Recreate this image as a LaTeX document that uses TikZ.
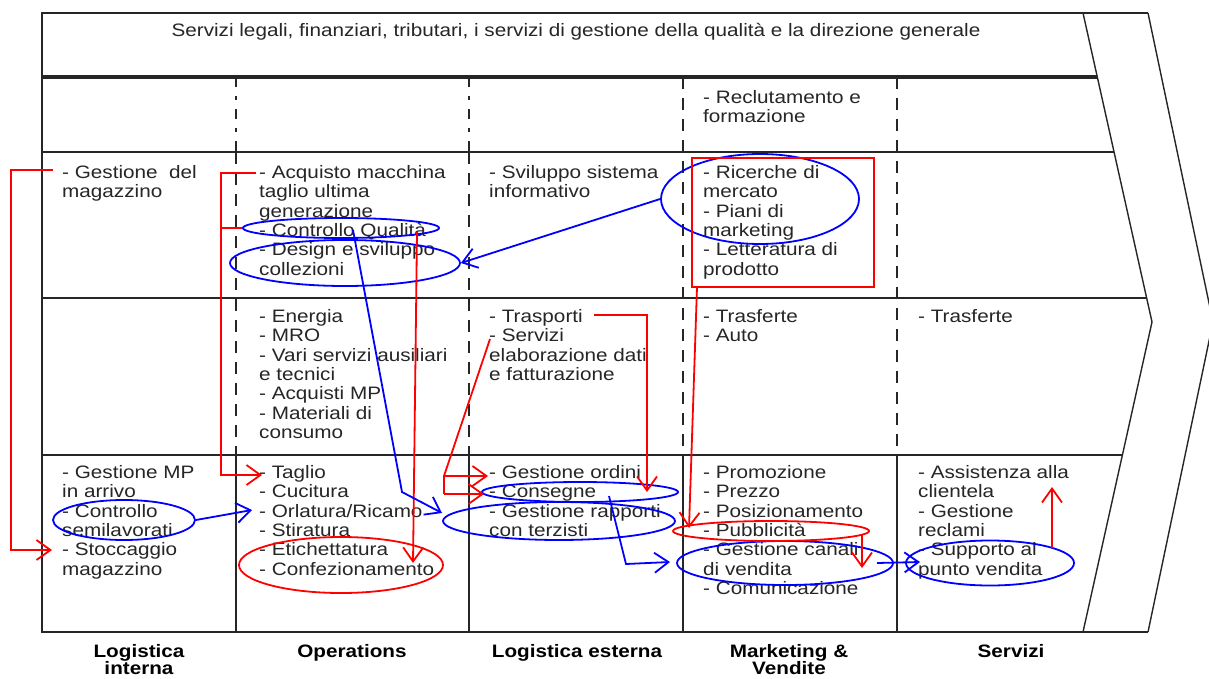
\documentclass[tikz,border=0pt]{standalone}
\usepackage{fontspec}
\setmainfont{Liberation Sans}[FakeStretch=1.15]
\usetikzlibrary{arrows.meta,shapes.geometric}
\tikzset{
 frame/.style={line width=2.2pt, black!85},
 thickframe/.style={line width=3.2pt, black!85},
 chev/.style={line width=1.4pt, black!85},
 dashcol/.style={line width=2.8pt, black!85, dash pattern=on 12pt off 9pt},
 dotcol/.style={line width=2.8pt, black!85, dash pattern=on 10pt off 9pt on 4pt off 9pt},
 cell/.style={anchor=north west, inner sep=0pt, align=left, font=\fontsize{18}{19.4}\selectfont, text=black!85},
 foot/.style={anchor=north, inner sep=0pt, align=center, font=\fontsize{18}{17.5}\selectfont\bfseries, text=black},
 ann/.style={line width=1.8pt},
 bell/.style={draw=blue, ann, ellipse, inner sep=0pt},
 rell/.style={draw=red, ann, ellipse, inner sep=0pt},
 barb/.style={-{Straight Barb[length=14pt,width=20pt]}},
 bline/.style={draw=blue, ann},
 rline/.style={draw=red, ann},
}
\begin{document}
\begin{tikzpicture}[x=1pt,y=-1pt]
\useasboundingbox (0,0) rectangle (1209,679);
\fill[white] (0,0) rectangle (1209,679);
\clip (0,0) rectangle (1209,679);

% ---- frame ----
\draw[frame] (1148,13) -- (42,13) -- (42,632) -- (1148,632);
\draw[chev] (1083,13) -- (1152,322) -- (1083,632);
\draw[chev] (1148,13) -- (1213,322) -- (1148,632);
\draw[thickframe] (42,77) -- (1097,77);
\draw[frame] (42,152) -- (1114,152);
\draw[frame] (42,298) -- (1147,298);
\draw[frame] (42,455) -- (1122,455);
% columns
\foreach \cx in {236,469}{
  \draw[dotcol] (\cx,77) -- (\cx,152);
  \draw[dashcol] (\cx,152) -- (\cx,455);
  \draw[frame] (\cx,455) -- (\cx,632);
}
\foreach \cx in {683,897}{
  \draw[dashcol] (\cx,77) -- (\cx,455);
  \draw[frame] (\cx,455) -- (\cx,632);
}

% ---- texts ----
\node[cell, anchor=center] (top) at (576,32) {Servizi legali, finanziari, tributari, i servizi di gestione della qualità e la direzione generale};

\node[cell] (rec) at (703,90) {- Reclutamento e\\formazione};

\node[cell] (mag) at (62,165) {- Gestione\ \ del\\magazzino};
\node[cell] (acq) at (259,165) {- Acquisto macchina\\taglio ultima\\generazione\\- Controllo Qualità\\- Design e sviluppo\\collezioni};
\node[cell] (svi) at (489,165) {- Sviluppo sistema\\informativo};
\node[cell] (ric) at (703,165) {- Ricerche di\\mercato\\- Piani di\\marketing\\- Letteratura di\\prodotto};

\node[cell] (ene) at (259,309) {- Energia\\- MRO\\- Vari servizi ausiliari\\e tecnici\\- Acquisti MP\\- Materiali di\\consumo};
\node[cell] (tra) at (489,309) {- Trasporti\\- Servizi\\elaborazione dati\\e fatturazione};
\node[cell] (trf) at (703,309) {- Trasferte\\- Auto};
\node[cell] (trs) at (918,309) {- Trasferte};

\node[cell] (lin) at (62,465) {- Gestione MP\\in arrivo\\- Controllo\\semilavorati\\- Stoccaggio\\magazzino};
\node[cell] (ope) at (259,465) {- Taglio\\- Cucitura\\- Orlatura/Ricamo\\- Stiratura\\- Etichettatura\\- Confezionamento};
\node[cell] (les) at (489,465) {- Gestione ordini\\- Consegne\\- Gestione rapporti\\con terzisti};
\node[cell] (mkt) at (703,465) {- Promozione\\- Prezzo\\- Posizionamento\\- Pubblicità\\- Gestione canali\\di vendita\\- Comunicazione};
\node[cell] (ser) at (918,465) {- Assistenza alla\\clientela\\- Gestione\\reclami\\- Supporto al\\punto vendita};

\node[foot] (f1) at (139,644) {Logistica\\interna};
\node[foot] (f2) at (352,644) {Operations};
\node[foot] (f3) at (577,644) {Logistica esterna};
\node[foot] (f4) at (789,644) {Marketing \&\\Vendite};
\node[foot] (f5) at (1011,644) {Servizi};

% ---- annotation shapes ----
\node[bell, minimum width=196pt, minimum height=20pt] (cqE) at (341,228) {};
\node[bell, minimum width=230pt, minimum height=46pt] (desE) at (345,263) {};
\node[bell, minimum width=198pt, minimum height=90pt] (ricE) at (760,199) {};
\node[bell, minimum width=142pt, minimum height=40pt] (semiE) at (124,520) {};
\node[bell, minimum width=196pt, minimum height=20pt] (conE) at (580,492) {};
\node[bell, minimum width=232pt, minimum height=38pt] (terE) at (559,521) {};
\node[bell, minimum width=216pt, minimum height=44pt] (canE) at (785,563) {};
\node[bell, minimum width=168pt, minimum height=45pt] (supE) at (990,563) {};
\node[rell, minimum width=204pt, minimum height=56pt] (confE) at (341,565) {};
\node[rell, minimum width=196pt, minimum height=20pt] (pubE) at (771,531) {};
\node[draw=red, ann, rectangle, inner sep=0pt, minimum width=182pt, minimum height=129pt] (ricR) at (783,222.5) {};

% ---- red connectors ----
\coordinate (r1s) at (53,170);
\coordinate (r1e) at (52,550);
\draw[rline, barb] (r1s) -- ++(-42,0) |- (r1e);

\coordinate (r2s) at (256,173);
\coordinate (r2e) at (262,475);
\draw[rline, barb] (r2s) -- ++(-35,0) |- (r2e);
\draw[rline] (cqE.west) -- ++(-22,0);

\coordinate (r3s) at (417,232);
\coordinate (r3e) at (413,563);
\draw[rline, barb] (r3s) -- (r3e);

\coordinate (r4s) at (697,287);
\coordinate (r4e) at (689,528);
\draw[rline, barb] (r4s) -- (r4e);

\coordinate (r5s) at (862,534);
\coordinate (r5e) at (862,568);
\draw[rline, barb] (r5s) -- (r5e);

\coordinate (r6s) at (490,339);
\coordinate (r6m) at (444,476);
\coordinate (r6b) at (444,494);
\coordinate (r6t1) at (488,476);
\coordinate (r6t2) at (484,494);
\draw[rline] (r6s) -- (r6m) -- (r6b);
\draw[rline, barb] (r6m) -- (r6t1);
\draw[rline, barb] (r6b) -- (r6t2);

\coordinate (r7s) at (594,315);
\coordinate (r7e) at (647,492);
\draw[rline, barb] (r7s) -| (r7e);

\coordinate (r8s) at (1052,548);
\coordinate (r8e) at (1052,487);
\draw[rline, barb] (r8s) -- (r8e);

% ---- blue connectors ----
\draw[bline, barb] (ricE.west) -- (desE.east);

\coordinate (b2s) at (353,230);
\coordinate (b2m) at (402,492);
\coordinate (b2e) at (442,513);
\draw[bline, barb] (b2s) -- (b2m) -- (b2e);

\coordinate (b3e) at (252,510);
\draw[bline, barb] (semiE.east) -- (b3e);

\coordinate (b4s) at (609,496);
\coordinate (b4m) at (626,564);
\coordinate (b4e) at (670,562);
\draw[bline, barb] (b4s) -- (b4m) -- (b4e);

\coordinate (b5s) at (877,563);
\coordinate (b5e) at (920,562);
\draw[bline, barb] (b5s) -- (b5e);
\end{tikzpicture}
\end{document}
